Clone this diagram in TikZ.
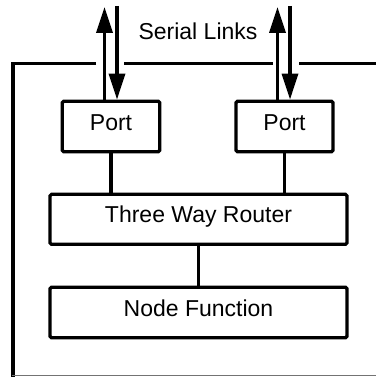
\documentclass[tikz,border=0pt]{standalone}
\usepackage{fontspec}
\setmainfont{Liberation Sans}
\usetikzlibrary{arrows.meta}
\begin{document}
\begin{tikzpicture}[x=1pt,y=-1pt,
  box/.style={draw, line width=3.2pt, rounded corners=1.5pt, inner sep=0pt,
    font=\fontsize{23}{27}\selectfont, text height=0.72em, text depth=0pt},
  wire/.style={line width=3.2pt},
  frame/.style={line width=3.2pt},
  link/.style={line width=3.4pt, -{Triangle[length=26pt,width=16pt]}}]
\useasboundingbox (0,0) rectangle (375,377);
% nodes
\node[box, minimum width=97.5pt, minimum height=50.5pt] (portL) at (111,126.5) {Port};
\node[box, minimum width=97pt, minimum height=50.5pt] (portR) at (284.5,126.5) {Port};
\node[box, minimum width=297pt, minimum height=50pt] (router) at (198.5,219.3) {Three Way Router};
\node[box, minimum width=297pt, minimum height=50.5pt] (nf) at (198.5,312.5) {Node Function};
\node[font=\fontsize{23}{27}\selectfont, anchor=base, inner sep=0pt] (serial) at (198,40) {Serial Links};
% free ends of the links
\coordinate (lup) at (104.5,7);
\coordinate (ldn) at (117,6);
\coordinate (rup) at (277.5,7);
\coordinate (rdn) at (290,6);
% serial links
\draw[link] (portL.north -| lup) -- (lup);
\draw[link] (ldn) -- (portL.north -| ldn);
\draw[link] (portR.north -| rup) -- (rup);
\draw[link] (rdn) -- (portR.north -| rdn);
% connectors
\draw[wire] (portL.south) -- (portL.south |- router.north);
\draw[wire] (portR.south) -- (portR.south |- router.north);
\draw[wire] (router.south) -- (nf.north);
% outer frame
\coordinate (fa) at (96,63.5);
\coordinate (fb) at (124,63.5);
\coordinate (fc) at (272.5,63.5);
\coordinate (fd) at (299,63.5);
\coordinate (fe) at (376,63.5);
\coordinate (fcorner) at (13,63.5);
\draw[frame] (fa) -- (fcorner) -- (13,377);
\draw[frame] (fb) -- (fc);
\draw[frame] (fd) -- (fe);
\draw[line width=1pt, black!55] (11.5,375.7) -- (376,375.7);
\end{tikzpicture}
\end{document}
